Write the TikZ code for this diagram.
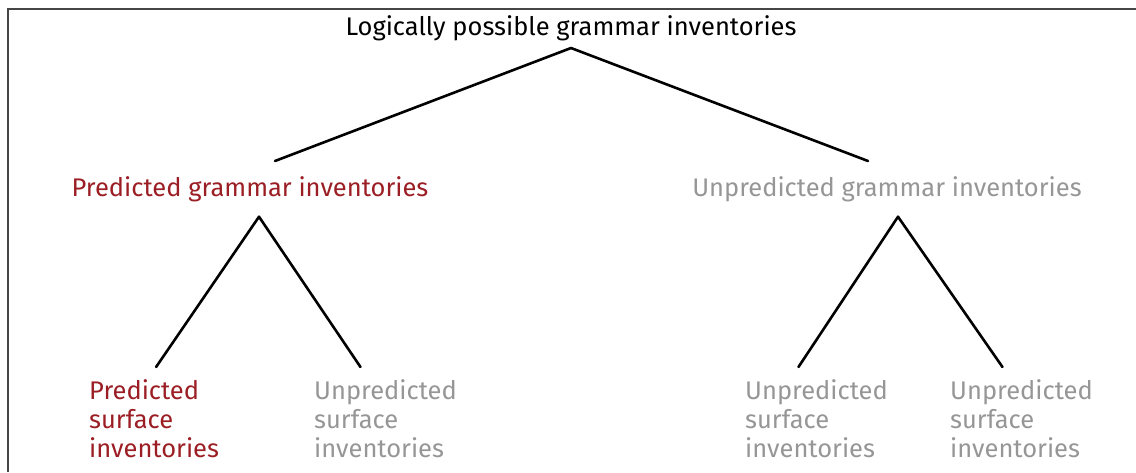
\documentclass[tikz,border=0pt]{standalone}
\usepackage{fontspec}
\setmainfont{Fira Sans}
\definecolor{predred}{RGB}{155,30,36}
\definecolor{unpredgray}{RGB}{150,150,150}
\definecolor{framegray}{RGB}{70,70,70}
\tikzset{
  label/.style={font=\fontsize{25.5}{29}\selectfont, inner xsep=0pt},
  mid/.style={label, inner ysep=15pt},
  leaf/.style={label, align=left, inner ysep=12pt, anchor=north west},
  pred/.style={text=predred},
  unpred/.style={text=unpredgray},
  branch/.style={line width=2.6pt, line cap=round}
}
\begin{document}
\begin{tikzpicture}[x=1pt,y=-1pt]
      \useasboundingbox (0,0) rectangle (1136,472);
      \draw[framegray, line width=2pt] (7.5,472) -- (7.5,8.5) -- (1136,8.5);
      \node[label, inner ysep=7pt, anchor=south] (all) at (571,48) {Logically possible grammar inventories};
      \node[mid, pred, anchor=north] (pg) at (250,161) {Predicted grammar inventories};
      \node[mid, unpred, anchor=north] (ug) at (887,161) {Unpredicted grammar inventories};
      \node[leaf, pred] (pgps) at (89,367) {Predicted\\surface\\inventories};
      \node[leaf, unpred] (pgus) at (314,367) {Unpredicted\\surface\\inventories};
      \node[leaf, unpred] (ugus) at (745,367) {Unpredicted\\surface\\inventories};
      \node[leaf, unpred] (ugvs) at (950,367) {Unpredicted\\surface\\inventories};
      \begin{scope}[branch]
        \draw (all.south) -- ([xshift=25pt]pg.north);
        \draw (all.south) -- ([xshift=-19pt]ug.north);
        \draw ([xshift=9pt]pg.south) -- ([xshift=2pt]pgps.north);
        \draw ([xshift=9pt]pg.south) -- ([xshift=-25pt]pgus.north);
        \draw ([xshift=11pt]ug.south) -- ([xshift=-18pt]ugus.north);
        \draw ([xshift=11pt]ug.south) -- ([xshift=-19pt]ugvs.north);
      \end{scope}
    \end{tikzpicture}
\end{document}
